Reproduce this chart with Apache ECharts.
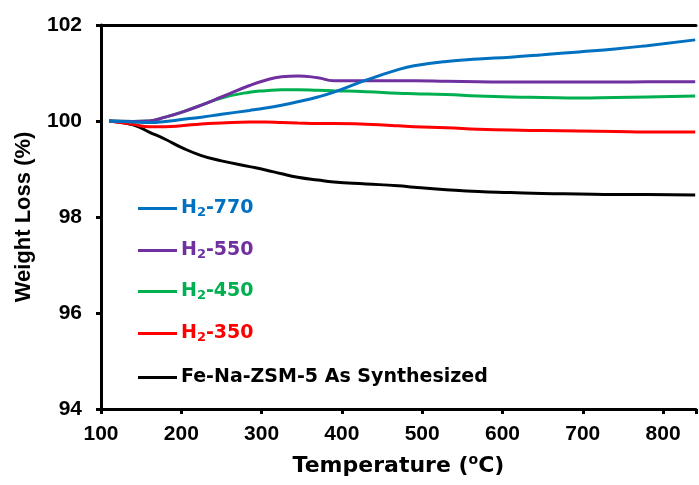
<!DOCTYPE html>
<html>
<head>
<meta charset="utf-8">
<script src="https://cdn.jsdelivr.net/npm/echarts@6/dist/echarts.min.js"></script>
<style>
  html, body { margin: 0; padding: 0; background: #fff; }
  #chart { width: 699px; height: 485px; }
</style>
</head>
<body>
<div id="chart"></div>
<script>
// temperatures (oC)
const temps = [110, 140, 160, 180, 200, 225, 250, 285, 305, 325, 345, 370, 390, 430, 470, 490, 530, 570, 610, 650, 695, 740, 780, 840];

// weight (%) per sample
const h2_770 = [100, 99.98, 99.97, 99.99, 100.03, 100.08, 100.14, 100.22, 100.27, 100.33, 100.4, 100.5, 100.6, 100.85, 101.07, 101.15, 101.24, 101.29, 101.33, 101.38, 101.44, 101.5, 101.57, 101.69];
const h2_550 = [100, 99.99, 100, 100.08, 100.18, 100.33, 100.5, 100.74, 100.85, 100.92, 100.94, 100.9, 100.84, 100.84, 100.84, 100.84, 100.83, 100.82, 100.81, 100.81, 100.81, 100.81, 100.82, 100.82];
const h2_450 = [100, 99.99, 100, 100.08, 100.18, 100.33, 100.48, 100.6, 100.63, 100.65, 100.65, 100.64, 100.63, 100.61, 100.58, 100.57, 100.55, 100.52, 100.5, 100.49, 100.48, 100.49, 100.5, 100.52];
const h2_350 = [100, 99.93, 99.88, 99.88, 99.9, 99.94, 99.96, 99.98, 99.98, 99.97, 99.96, 99.95, 99.95, 99.93, 99.9, 99.88, 99.86, 99.83, 99.81, 99.8, 99.79, 99.78, 99.77, 99.77];
const asSynth = [100, 99.92, 99.77, 99.62, 99.45, 99.28, 99.17, 99.05, 98.98, 98.9, 98.83, 98.77, 98.73, 98.69, 98.65, 98.62, 98.57, 98.53, 98.51, 98.49, 98.48, 98.47, 98.47, 98.46];

const seriesNames = ['H2-770', 'H2-550', 'H2-450', 'H2-350', 'Fe-Na-ZSM-5 As Synthesized'];
const seriesValues = [h2_770, h2_550, h2_450, h2_350, asSynth];
const seriesColors = ['#0070C0', '#7030A0', '#00B050', '#FF0000', '#000000'];

const yTicks = [94, 96, 98, 100, 102];
const xTicks = [100, 200, 300, 400, 500, 600, 700, 800];

const chart = echarts.init(document.getElementById('chart'));

const font = 'Liberation Sans, Arial, sans-serif';
const wideFont = 'DejaVu Sans, sans-serif';
const legendTops = [199, 241, 282, 324, 368];

// H2 -> H with subscript 2
function legendFormat(name) {
  if (name.indexOf('H2') === 0) {
    return '{n|H}{s|2}{n|' + name.slice(2) + '}';
  }
  return '{n|' + name + '}';
}

const option = {
  animation: false,
  grid: { left: 101, right: 0, top: 25, bottom: 76 },
  legend: seriesNames.map((name, i) => ({
    data: [{ name: name, icon: 'rect', textStyle: { color: seriesColors[i] } }],
    left: 138,
    top: legendTops[i],
    padding: 0,
    itemWidth: 39,
    itemHeight: 3,
    selectedMode: false,
    formatter: legendFormat,
    textStyle: {
      fontFamily: wideFont,
      fontWeight: 'bold',
      fontSize: 19,
      padding: [0, 0, 0, -1],
      rich: {
        n: { fontFamily: wideFont, fontWeight: 'bold', fontSize: 19, lineHeight: 22 },
        s: { fontFamily: wideFont, fontWeight: 'bold', fontSize: 13, lineHeight: 6, verticalAlign: 'bottom' }
      }
    }
  })),
  xAxis: [{
    type: 'value',
    min: 100,
    max: 841,
    interval: 100,
    name: '{t|Temperature (}{o|o}{t|C)}',
    nameLocation: 'middle',
    nameGap: 44,
    nameTextStyle: {
      rich: {
        t: { fontFamily: wideFont, fontWeight: 'bold', fontSize: 22, color: '#000', lineHeight: 26 },
        o: { fontFamily: wideFont, fontWeight: 'bold', fontSize: 14, color: '#000', lineHeight: 8, verticalAlign: 'top' }
      }
    },
    axisLine: { lineStyle: { color: '#000', width: 3 } },
    axisTick: { length: 5, lineStyle: { color: '#000', width: 3 } },
    axisLabel: {
      margin: 15,
      fontFamily: font, fontWeight: 'bold', fontSize: 21, color: '#000',
      formatter: v => (xTicks.indexOf(v) >= 0 ? String(v) : '')
    },
    splitLine: { show: false }
  }, {
    type: 'value',
    position: 'top',
    min: 100,
    max: 841,
    axisLine: { show: true, lineStyle: { color: '#000', width: 3 } },
    axisTick: { show: false },
    axisLabel: { show: false },
    splitLine: { show: false }
  }],
  yAxis: {
    type: 'value',
    min: 94,
    max: 102,
    interval: 2,
    name: 'Weight Loss (%)',
    nameLocation: 'middle',
    nameGap: 66,
    nameTextStyle: { fontFamily: font, fontWeight: 'bold', fontSize: 22, color: '#000' },
    axisLine: { show: true, lineStyle: { color: '#000', width: 3 } },
    axisTick: { show: true, length: 5, lineStyle: { color: '#000', width: 3 } },
    axisLabel: {
      margin: 19,
      fontFamily: font, fontWeight: 'bold', fontSize: 21, color: '#000',
      formatter: v => (yTicks.indexOf(v) >= 0 ? String(v) : '')
    },
    splitLine: { show: false }
  },
  series: seriesNames.map((name, i) => ({
    name: name,
    type: 'line',
    smooth: 0.5,
    symbol: 'none',
    data: temps.map((t, j) => [t, seriesValues[i][j]]),
    lineStyle: { color: seriesColors[i], width: 3 },
    itemStyle: { color: seriesColors[i] },
    z: 10 - i
  }))
};

chart.setOption(option);
</script>
</body>
</html>
